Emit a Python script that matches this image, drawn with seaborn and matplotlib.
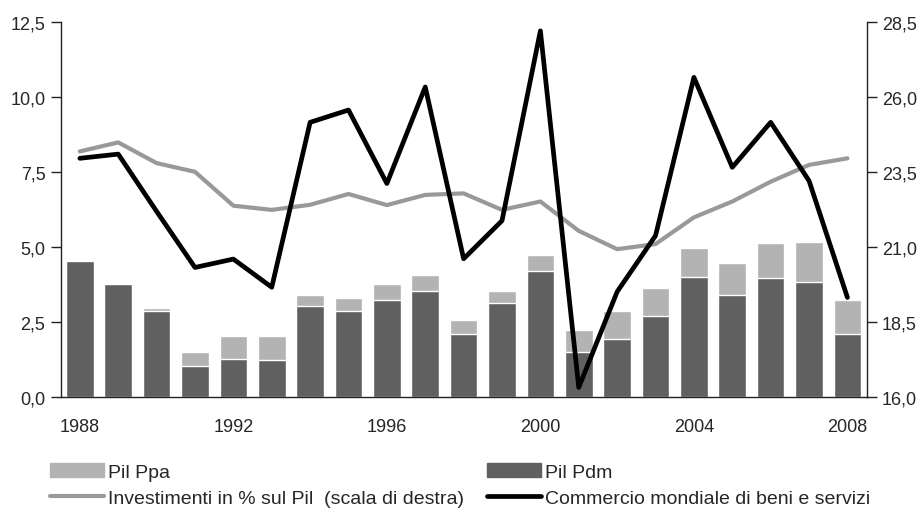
import numpy as np
import pandas as pd
import matplotlib
matplotlib.use("Agg")
import matplotlib.pyplot as plt
from matplotlib.patches import Patch
from matplotlib.lines import Line2D
from matplotlib.ticker import FuncFormatter
import seaborn as sns

years = list(range(1988, 2009))
# Pil Ppa (total bar, light) and Pil Pdm (dark bar)
pil_ppa = [4.57, 3.78, 2.98, 1.52, 2.05, 2.04, 3.42, 3.31, 3.78, 4.08, 2.58,
           3.55, 4.74, 2.23, 2.88, 3.65, 4.98, 4.49, 5.14, 5.19, 3.24]
pil_pdm = [4.55, 3.78, 2.89, 1.05, 1.28, 1.24, 3.05, 2.89, 3.24, 3.55, 2.12,
           3.15, 4.22, 1.52, 1.94, 2.71, 4.00, 3.42, 3.97, 3.85, 2.10]
# commercio mondiale (left scale)
commercio = [7.97, 8.11, 6.2, 4.33, 4.61, 3.67, 9.17, 9.58, 7.13, 10.35, 4.62,
             5.89, 12.22, 0.33, 3.52, 5.39, 10.67, 7.67, 9.17, 7.22, 3.33]
# investimenti in % sul Pil (right scale)
investimenti = [24.2, 24.5, 23.81, 23.52, 22.39, 22.25, 22.42, 22.78, 22.41, 22.75, 22.8,
                22.25, 22.53, 21.55, 20.94, 21.11, 22.0, 22.53, 23.19, 23.75, 23.97]

df = pd.DataFrame({"anno": years, "ppa": pil_ppa, "pdm": pil_pdm,
                   "commercio": commercio, "investimenti": investimenti})

sns.set_style("white")
plt.rcParams['font.family'] = ['Liberation Sans', 'DejaVu Sans']
plt.rcParams['font.size'] = 13

col_light = "#b3b3b3"
col_dark = "#606060"
col_gray = "#999999"

fig, ax = plt.subplots(figsize=(9.19, 5.10), dpi=100)
fig.subplots_adjust(left=0.066, right=0.943, top=0.954, bottom=0.219)
ax2 = ax.twinx()

sns.barplot(data=df, x="anno", y="ppa", native_scale=True, color=col_light,
            saturation=1, width=0.72, ax=ax)
sns.barplot(data=df, x="anno", y="pdm", native_scale=True, color=col_dark,
            saturation=1, width=0.72, ax=ax)
sns.lineplot(data=df, x="anno", y="commercio", color="black", lw=3.4, ax=ax)
sns.lineplot(data=df, x="anno", y="investimenti", color=col_gray, lw=3.0, ax=ax2)

# gray line drawn behind the main axes
ax.set_zorder(ax2.get_zorder() + 1)
ax.patch.set_visible(False)

ax.set_xlim(1987.5, 2008.5)
ax.set_ylim(0, 12.5)
ax2.set_ylim(16, 28.5)
ax.set_yticks(np.arange(0, 12.6, 2.5))
ax2.set_yticks(np.arange(16, 28.6, 2.5))
comma = FuncFormatter(lambda v, p: f"{v:.1f}".replace(".", ","))
ax.yaxis.set_major_formatter(comma)
ax2.yaxis.set_major_formatter(comma)

ax.set_xticks(years[::4])
ax.set_xticklabels([str(y) for y in years[::4]])
ax.set_xticks(np.arange(1987.5, 2009, 1.0), minor=True)
ax.tick_params(axis="x", which="major", length=0, pad=15, labelsize=13)
ax.tick_params(axis="x", which="minor", length=5, width=1, direction="out", color="#222222")
ax.tick_params(axis="y", length=7, width=1, direction="out", color="#222222", labelsize=13,
               left=True, pad=4)
ax2.tick_params(axis="y", length=7, width=1, direction="out", color="#222222", labelsize=13,
                right=True, pad=4)

ax.set_xlabel("")
ax.set_ylabel("")
ax2.set_ylabel("")
ax.grid(False)
ax2.grid(False)
for a in (ax, ax2):
    a.spines["top"].set_visible(False)
    for s in ("left", "right", "bottom"):
        a.spines[s].set_color("#222222")
        a.spines[s].set_linewidth(1)
ax.spines["right"].set_visible(False)
ax2.spines["left"].set_visible(False)
ax2.spines["bottom"].set_visible(False)

handles = [Patch(color=col_light, label="Pil Ppa"),
           Line2D([], [], color=col_gray, lw=3.0, label="Investimenti in % sul Pil  (scala di destra)"),
           Patch(color=col_dark, label="Pil Pdm"),
           Line2D([], [], color="black", lw=3.4, label="Commercio mondiale di beni e servizi")]
fig.legend(handles=handles, ncol=2, loc="upper left", bbox_to_anchor=(0.054, 0.09),
           frameon=False, fontsize=14, handlelength=2.78, handletextpad=0.2,
           columnspacing=1.2, labelspacing=0.45, borderpad=0, borderaxespad=0)

fig.savefig("out.png", dpi=100)
